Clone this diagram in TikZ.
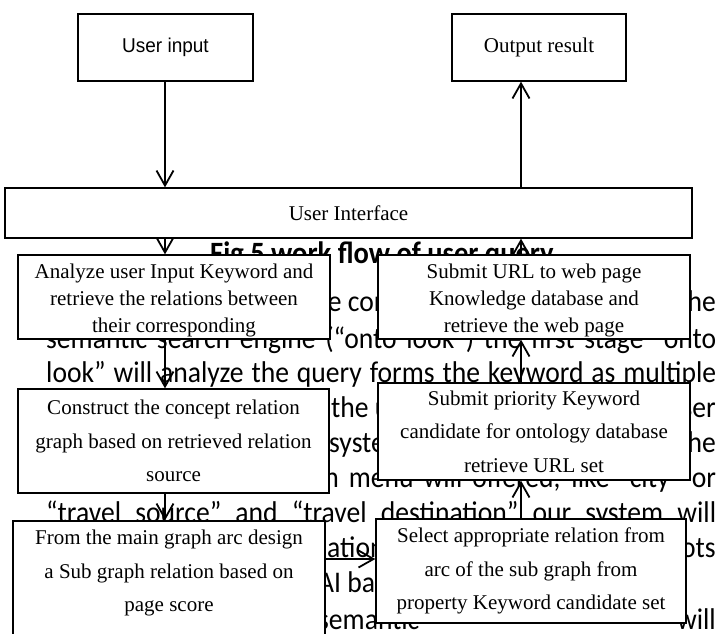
\documentclass[tikz,border=0pt]{standalone}
\usepackage{fontspec}
\setmainfont{Liberation Serif}
\newfontfamily\bodyfont[FakeStretch=0.92]{Carlito}
\newfontfamily\labelsans[FakeStretch=0.95]{Liberation Sans}
\usetikzlibrary{arrows.meta}

\begin{document}
\begin{tikzpicture}[x=1pt, y=-1pt,
  stepbox/.style={draw=black, line width=1.3pt, fill=white, inner sep=0pt,
    align=center, font=\fontsize{21}{33.5}\selectfont},
  boxtext/.style={inner sep=0pt, align=center, font=\fontsize{21}{27}\selectfont},
  flow/.style={line width=1.8pt,
    -{Straight Barb[length=15pt, width=17pt, line width=1.8pt]}},
  para/.style={inner sep=0pt, anchor=base west, font=\fontsize{30}{34}\bodyfont},
  parar/.style={inner sep=0pt, anchor=base east, font=\fontsize{30}{34}\bodyfont},
  caption/.style={inner sep=0pt, anchor=base west, font=\fontsize{31}{34}\bodyfont\bfseries}
]
\useasboundingbox (0,0) rectangle (717,633);

% column and row guides for the connectors
\coordinate (colL) at (165,0);
\coordinate (colR) at (521,0);
\coordinate (rowA) at (0,559);

% ---- running text of the page, lying under the flow chart ----
\node[caption] (cap) at (210,263) {Fig 5 work flow of user query};

\node[para]  (l1a) at (304,311) {the concept};
\node[parar] (l1b) at (716,311) {the};
\node[para]  (l2)  at (46,348) {\makebox[670pt][s]{semantic search engine (“onto look”) the first stage “onto}};
\node[para]  (l3)  at (46,382) {\makebox[670pt][s]{look” will analyze the query forms the keyword as multiple}};
\node[para]  (l4a) at (331,417) {the user};
\node[parar] (l4b) at (716,417) {user};
\node[para]  (l5a) at (329,452) {system};
\node[parar] (l5b) at (716,452) {the};
\node[para]  (l6)  at (46,487) {\makebox[670pt][s]{suggestion by drop down menu will offered, like “city” or}};
\node[para]  (l7)  at (46,522) {\makebox[670pt][s]{“travel source” and “travel destination” our system will}};
\node[para]  (l8a) at (327,557) {ation};
\node[parar] (l8b) at (716,557) {spots};
\node[para]  (l9a) at (318,592) {AI based};
\node[para]  (l10a) at (318,629) {semantic};
\node[parar] (l10b) at (716,629) {will};

% ---- flow chart boxes ----
\node[stepbox, minimum width=175pt, minimum height=67pt] (uin) at (165.5,47.5)
  {{\labelsans\fontsize{20}{24}\selectfont User input}};
\node[stepbox, minimum width=174pt, minimum height=67pt] (outr) at (539,47.5) {Output result};
\node[stepbox, minimum width=687pt, minimum height=50pt] (ui) at (348.5,213) {User Interface};

\node[stepbox, minimum width=312pt, minimum height=84pt] (an) at (174,297) {};
\node[boxtext] (antext) at (174,300)
  {Analyze user Input Keyword and\\retrieve the relations between\\their corresponding};
\node[stepbox, minimum width=312pt, minimum height=84pt] (su) at (534,297) {};
\node[boxtext] (sutext) at (534,300)
  {Submit URL to web page\\Knowledge database and\\retrieve the web page};

\node[stepbox, minimum width=311pt, minimum height=104pt] (co) at (173.5,441)
  {Construct the concept relation\\graph based on retrieved relation\\source};
\node[stepbox, minimum width=312pt, minimum height=97pt] (sp) at (534,431.5)
  {Submit priority Keyword\\candidate for ontology database\\retrieve URL set};

\node[stepbox, minimum width=312pt, minimum height=140pt] (fm) at (169,591) {};
\node[boxtext, font=\fontsize{21}{33.5}\selectfont] (fmtext) at (169,573)
  {From the main graph arc design\\a Sub graph relation based on\\page score};
\node[stepbox, minimum width=310pt, minimum height=104pt] (se) at (531,571)
  {Select appropriate relation from\\arc of the sub graph from\\property Keyword candidate set};

% ---- connectors ----
\draw[flow] (uin.south -| colL) -- (ui.north -| colL);
\draw[flow] (ui.north -| colR) -- (outr.south -| colR);
\draw[flow] (ui.south -| colL) -- (an.north -| colL);
\draw[flow] (su.north -| colR) -- (ui.south -| colR);
\draw[flow] (an.south -| colL) -- (co.north -| colL);
\draw[flow] (sp.north -| colR) -- (su.south -| colR);
\draw[flow] (co.south -| colL) -- (fm.north -| colL);
\draw[flow] (se.north -| colR) -- (sp.south -| colR);
\draw[flow] (fm.east |- rowA) -- (se.west |- rowA);
\end{tikzpicture}
\end{document}
